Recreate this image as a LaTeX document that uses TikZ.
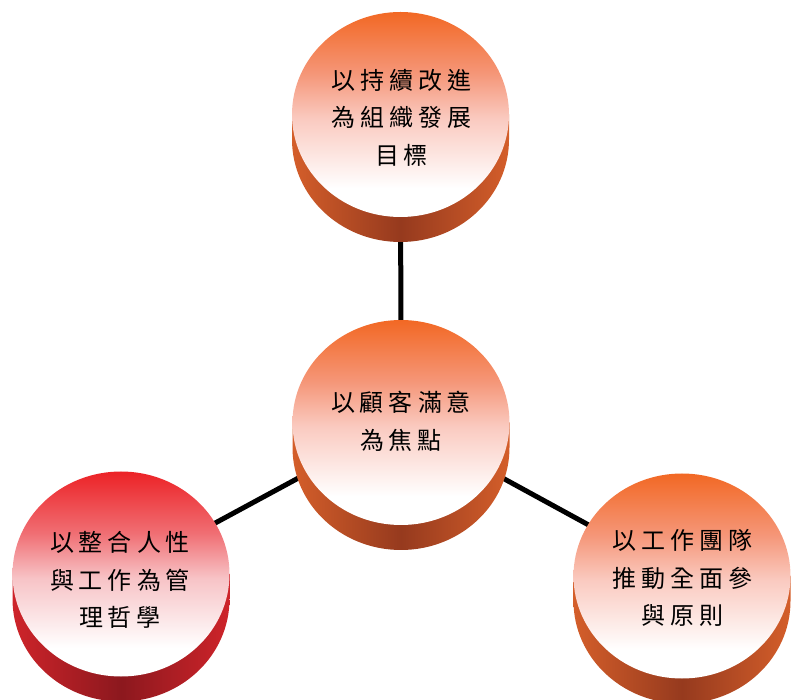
\documentclass[tikz,border=0pt]{standalone}
\usepackage{fontspec}
\newfontfamily\cjk{Noto Sans CJK TC}
\definecolor{orTop}{RGB}{242,104,36}
\definecolor{orMidA}{RGB}{245,150,120}
\definecolor{orMidB}{RGB}{250,202,192}
\definecolor{orSide}{RGB}{212,94,42}
\definecolor{orDark}{RGB}{150,58,30}
\definecolor{rdTop}{RGB}{236,34,38}
\definecolor{rdMidA}{RGB}{240,110,115}
\definecolor{rdMidB}{RGB}{247,195,198}
\definecolor{rdSide}{RGB}{206,36,42}
\definecolor{rdDark}{RGB}{140,24,30}
\pgfdeclareverticalshading{orface}{100bp}{color(0bp)=(white); color(32bp)=(white); color(49bp)=(orMidB); color(60bp)=(orMidA); color(75bp)=(orTop); color(100bp)=(orTop)}
\pgfdeclareverticalshading{rdface}{100bp}{color(0bp)=(white); color(32bp)=(white); color(49bp)=(rdMidB); color(60bp)=(rdMidA); color(75bp)=(rdTop); color(100bp)=(rdTop)}
\newcommand\cg{\hspace{5pt}}
% #1 x, #2 y, #3 face shading, #4 side edge, #5 side dark
\newcommand\mycyl[5]{%
  \shade[left color=#4, right color=#4, middle color=#5]
    (#1-108.5,#2) -- (#1-108.5,#2-25)
    arc[start angle=180, end angle=360, x radius=108.5, y radius=102.5]
    -- (#1+108.5,#2) -- cycle;
  \shade[shading=#3]
    (#1,#2) ellipse[x radius=108.5, y radius=102.5];
}
\tikzset{
  conn/.style={line width=5pt, black},
  txt/.style={font=\cjk\fontsize{24}{37.5}\selectfont, align=center, inner sep=0pt, text=black}
}
\begin{document}
\begin{tikzpicture}[x=1pt, y=1pt]
\useasboundingbox (0,0) rectangle (811,699);
\coordinate (cT) at (400.5,584.5);
\coordinate (cC) at (401,276.5);
\coordinate (cL) at (121,125);
\coordinate (cR) at (682,123);
\draw[conn] (cC) -- (cT);
\draw[conn] (cC) -- (cL);
\draw[conn] (cC) -- (cR);
\mycyl{400.5}{584.5}{orface}{orSide}{orDark}
\mycyl{121}{125}{rdface}{rdSide}{rdDark}
\mycyl{682}{123}{orface}{orSide}{orDark}
\mycyl{401}{276.5}{orface}{orSide}{orDark}
\node[txt] (tT) at (401.5,581.5) {以\cg{}持\cg{}續\cg{}改\cg{}進\\為\cg{}組\cg{}織\cg{}發\cg{}展\\目\cg{}標};
\node[txt] (tC) at (401,277.5) {以\cg{}顧\cg{}客\cg{}滿\cg{}意\\為\cg{}焦\cg{}點};
\node[txt] (tL) at (120,119) {以\cg{}整\cg{}合\cg{}人\cg{}性\\與\cg{}工\cg{}作\cg{}為\cg{}管\\理\cg{}哲\cg{}學};
\node[txt] (tR) at (682.5,121) {以\cg{}工\cg{}作\cg{}團\cg{}隊\\推\cg{}動\cg{}全\cg{}面\cg{}參\\與\cg{}原\cg{}則};
\end{tikzpicture}
\end{document}
